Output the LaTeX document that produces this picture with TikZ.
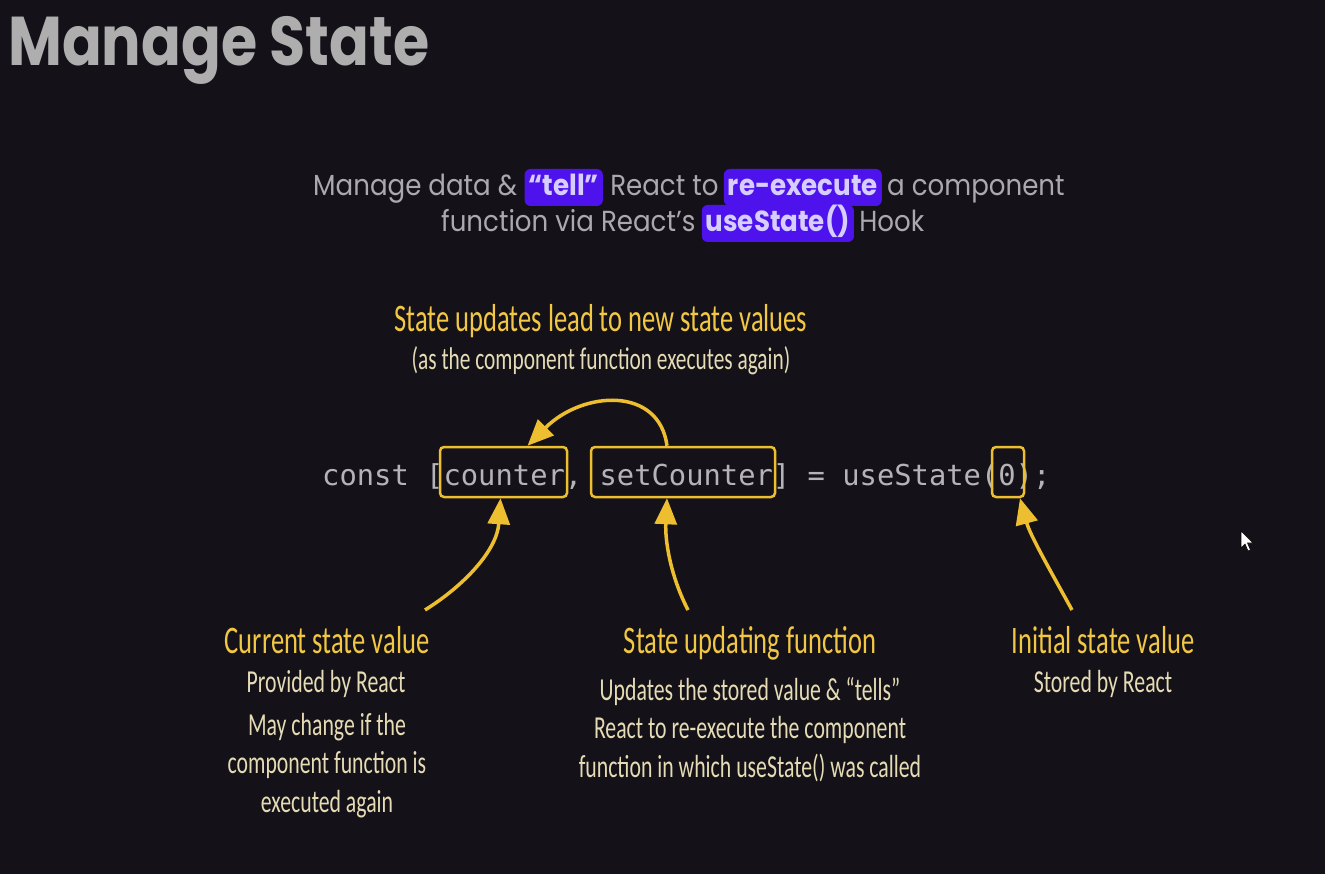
\documentclass[tikz,border=0pt]{standalone}
\usepackage{fontspec}
\usetikzlibrary{arrows.meta,calc}
\newfontfamily\titlefont{Poppins}[FakeStretch=0.85]
\newfontfamily\subfont{Poppins}[FakeStretch=0.9]
\newfontfamily\codefont{DejaVu Sans Mono}
\newfontfamily\handfont{Carlito}[FakeStretch=0.68]
\definecolor{bg}{HTML}{141218}
\definecolor{titlegray}{HTML}{AEAEAE}
\definecolor{subgray}{HTML}{A9A9AE}
\definecolor{hlblue}{HTML}{4E12EC}
\definecolor{hltext}{HTML}{D6CEFF}
\definecolor{codegray}{HTML}{B4B4B8}
\definecolor{yel}{HTML}{EDBE2F}
\definecolor{headyel}{HTML}{F2C744}
\definecolor{cream}{HTML}{E5DBB5}
\begin{document}
\begin{tikzpicture}[x=1pt,y=-1pt,
  sub/.style={inner sep=0pt, text=subgray, font=\subfont\fontsize{29}{31}\selectfont},
  hl/.style={fill=hlblue, rounded corners=6pt, inner xsep=4pt, inner ysep=5pt, text height=22pt, text depth=5pt, text=hltext, font=\subfont\bfseries\fontsize{29}{31}\selectfont},
  codebox/.style={draw=yel, line width=2.5pt, rounded corners=4pt, inner sep=0pt, minimum height=50pt},
  arr/.style={draw=yel, line width=3.5pt, -{Triangle[length=26pt,width=22pt]}},
  head/.style={inner sep=0pt, text=headyel, font=\handfont\fontsize{39}{40}\selectfont},
  note/.style={inner sep=0pt, text=cream, align=center, font=\handfont\fontsize{32}{38.5}\selectfont}
]
\useasboundingbox (0,0) rectangle (1325,874);
\fill[bg] (0,0) rectangle (1325,874);

% title
\node[anchor=base west, inner sep=0pt, text=titlegray, font=\titlefont\bfseries\fontsize{69}{69}\selectfont] (title) at (8,66) {Manage State};

% subtitle line 1
\node[sub, anchor=base west] (l1a) at (313,196) {Manage data \&};
\node[hl, anchor=base west] (l1b) at ([xshift=7pt]l1a.base east) {“tell”};
\node[sub, anchor=base west] (l1c) at ([xshift=7pt]l1b.base east) {React to};
\node[hl, anchor=base west] (l1d) at ([xshift=5pt]l1c.base east) {re-execute};
\node[sub, anchor=base west] (l1e) at ([xshift=5pt]l1d.base east) {a component};
% subtitle line 2
\node[sub, anchor=base west] (l2a) at (441,232) {function via React’s};
\node[hl, anchor=base west] (l2b) at ([xshift=6pt]l2a.base east) {useState()};
\node[sub, anchor=base west] (l2c) at ([xshift=5pt]l2b.base east) {Hook};

% code line
\node[anchor=base west, inner sep=0pt, text=codegray, font=\codefont\fontsize{28.8}{30}\selectfont] (code) at (322,485) {const [counter, setCounter] = useState(0);};
\node[codebox, minimum width=127pt] (cbox) at (503.5,472) {};
\node[codebox, minimum width=184pt] (sbox) at (683,472) {};
\node[codebox, minimum width=32pt] (zbox) at (1008,472) {};

% top label
\node[head, anchor=base] (upd) at (601,332) {State updates lead to new state values};
\node[note, anchor=base, font=\handfont\fontsize{31.4}{32}\selectfont] (upd2) at (601,370) {(as the component function executes again)};

% bottom labels
\node[head, anchor=base] (h1) at (327,653) {Current state value};
\node[note, anchor=base] (n1a) at (326,692) {Provided by React};
\node[note, anchor=base] (n1b) at (327,812) {May change if the\\component function is\\executed again};

\node[head, anchor=base] (h2) at (750,653) {State updating function};
\node[note, anchor=base] (n2) at (750,777) {Updates the stored value \& “tells”\\React to re-execute the component\\function in which useState() was called};

\node[head, anchor=base] (h3) at (1103,653) {Initial state value};
\node[note, anchor=base] (n3) at (1103,692) {Stored by React};

% arrows
\coordinate (p2) at (425,610);
\coordinate (p3) at (688,610);
\coordinate (p4) at (1072,610);
\draw[arr] ([xshift=-16pt]sbox.north) .. controls +(-8,-60) and +(55,-55) .. ([xshift=24pt]cbox.north);
\draw[arr] (p2) .. controls (465,585) and (497,550) .. ([xshift=-3pt]cbox.south);
\draw[arr] (p3) .. controls (670,575) and (665,540) .. ([xshift=-16pt]sbox.south);
\draw[arr] (p4) .. controls (1050,570) and (1030,535) .. ([xshift=12pt]zbox.south);

% mouse pointer
\filldraw[fill=white, draw=black, line width=0.6pt] (1241,531) -- (1241,548) -- (1245,544) -- (1248,551) -- (1250.5,550) -- (1247.5,543) -- (1253,543) -- cycle;
\end{tikzpicture}
\end{document}
